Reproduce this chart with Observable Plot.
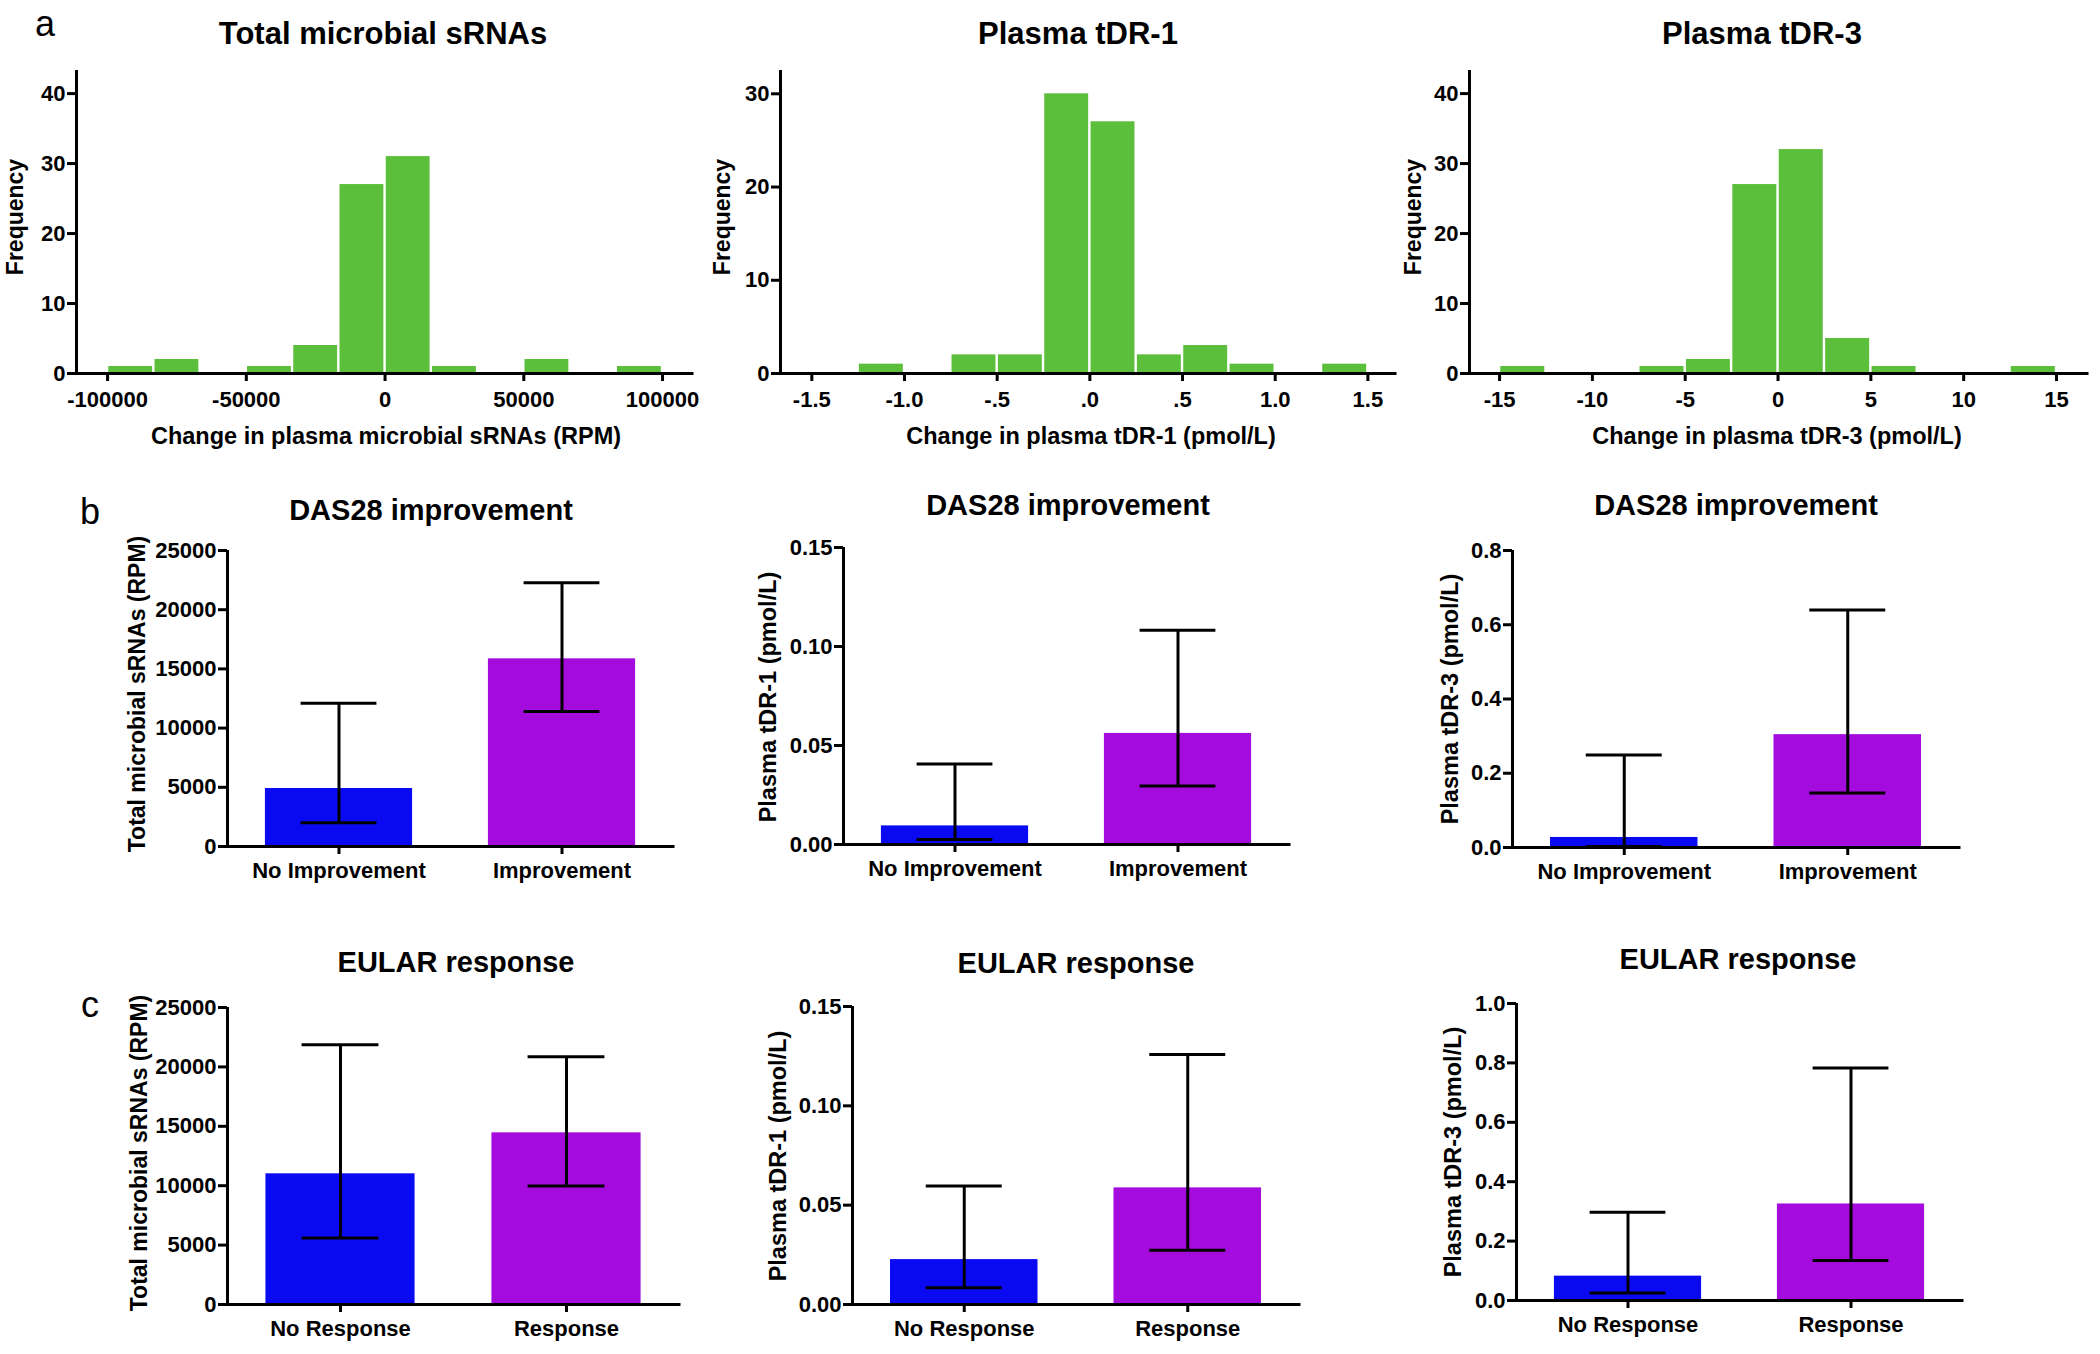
<!DOCTYPE html>
<html><head><meta charset="utf-8">
<script src="https://cdn.jsdelivr.net/npm/d3@7"></script>
<script src="https://cdn.jsdelivr.net/npm/@observablehq/plot@0.6"></script>
<style>
body{margin:0;background:#fff;}
#fig{position:relative;width:2100px;height:1354px;background:#fff;overflow:hidden;font-family:'Liberation Sans',Arial,Helvetica,sans-serif;color:#000;}
.t{position:absolute;white-space:nowrap;font-weight:bold;transform:translate(-50%,-50%);line-height:1;}
.v{transform:translate(-50%,-50%) rotate(-90deg);}
.p{position:absolute;}
</style></head><body><div id="fig"></div>
<script>
// ---------- DATA ----------
// Histograms (panel a): bin edges and counts
const srnaBinEdges = [-100000, -83333, -66667, -50000, -33333, -16667, 0, 16667, 33333, 50000, 66667, 83333, 100000];
const srnaCounts   = [1, 2, 0, 1, 4, 27, 31, 1, 0, 2, 0, 1];
const srnaTicks    = [-100000, -50000, 0, 50000, 100000];

const tdr1BinEdges = [-1.5, -1.25, -1.0, -0.75, -0.5, -0.25, 0, 0.25, 0.5, 0.75, 1.0, 1.25, 1.5];
const tdr1Counts   = [0, 1, 0, 2, 2, 30, 27, 2, 3, 1, 0, 1];
const tdr1Ticks    = [-1.5, -1.0, -0.5, 0, 0.5, 1.0, 1.5];

const tdr3BinEdges = [-15, -12.5, -10, -7.5, -5, -2.5, 0, 2.5, 5, 7.5, 10, 12.5, 15];
const tdr3Counts   = [1, 0, 0, 1, 2, 27, 32, 5, 1, 0, 0, 1];
const tdr3Ticks    = [-15, -10, -5, 0, 5, 10, 15];

const freqTicks40 = [0, 10, 20, 30, 40];
const freqTicks30 = [0, 10, 20, 30];

// Bar charts (panels b, c): value with lower / upper error limits
const das28Groups = ["No Improvement", "Improvement"];
const eularGroups = ["No Response", "Response"];

const das28SRNA     = [4900, 15850];
const das28SRNALow  = [2000, 11400];
const das28SRNAHigh = [12100, 22270];

const das28TDR1     = [0.0094, 0.0561];
const das28TDR1Low  = [0.0025, 0.0295];
const das28TDR1High = [0.0406, 0.1082];

const das28TDR3     = [0.027, 0.304];
const das28TDR3Low  = [0.003, 0.1465];
const das28TDR3High = [0.249, 0.640];

const eularSRNA     = [11000, 14450];
const eularSRNALow  = [5600, 9970];
const eularSRNAHigh = [21870, 20860];

const eularTDR1     = [0.0226, 0.0587];
const eularTDR1Low  = [0.0084, 0.0273];
const eularTDR1High = [0.0597, 0.1259];

const eularTDR3     = [0.082, 0.325];
const eularTDR3Low  = [0.025, 0.1345];
const eularTDR3High = [0.297, 0.783];

const srnaBarTicks = [0, 5000, 10000, 15000, 20000, 25000];
const tdr1BarTicks = [0, 0.05, 0.10, 0.15];
const tdr3BarTicksB = [0, 0.2, 0.4, 0.6, 0.8];
const tdr3BarTicksC = [0, 0.2, 0.4, 0.6, 0.8, 1.0];

// ---------- STYLE ----------
const FONT = "'Liberation Sans', Arial, Helvetica, sans-serif";
const GREEN = "#5cbf3b", BLUE = "#0a0af2", PURPLE = "#a40bdd";
const BAR_HALF = 0.33, CAP_HALF = 0.17;
const fig = document.getElementById("fig");

function txt(s, x, y, size, opts = {}) {
  const d = document.createElement("div");
  d.className = "t" + (opts.vertical ? " v" : "");
  d.textContent = s;
  d.style.left = x + "px"; d.style.top = y + "px";
  d.style.fontSize = size + "px";
  if (opts.weight) d.style.fontWeight = opts.weight;
  fig.appendChild(d);
}

function place(svg, left, top) {
  svg.classList.add("p");
  svg.style.left = left + "px"; svg.style.top = top + "px";
  fig.appendChild(svg);
}

function histogram(edges, counts, ticks, fmt, xDomain, yDomain, yTicks, frame) {
  const [L, R, T, B] = frame;
  const padL = 60, padR = 20, padT = 10, padB = 50;
  const data = counts.map((c, i) => ({x0: edges[i], x1: edges[i + 1], count: c})).filter(d => d.count > 0);
  const svg = Plot.plot({
    width: R - L + padL + padR, height: B - T + padT + padB,
    marginLeft: padL, marginRight: padR, marginTop: padT, marginBottom: padB,
    x: {domain: xDomain}, y: {domain: yDomain},
    style: {fontFamily: FONT, fontSize: "22px", fontWeight: "bold", color: "#000", background: "transparent", overflow: "visible"},
    marks: [
      Plot.rectY(data, {x1: "x0", x2: "x1", y: "count", fill: GREEN, insetLeft: 1.2, insetRight: 1.2}),
      Plot.ruleY([0], {strokeWidth: 3, strokeLinecap: "square"}),
      Plot.ruleX([xDomain[0]], {strokeWidth: 3}),
      Plot.axisY({ticks: yTicks, tickFormat: d => String(d), tickSize: 9, tickPadding: 2, strokeWidth: 3, label: null}),
      Plot.axisX({ticks: ticks, tickFormat: fmt, tickSize: 8, tickPadding: 10, strokeWidth: 3, label: null})
    ]
  });
  place(svg, L - padL, T - padT);
}

function barChart(groups, vals, lows, highs, yDomain, yTicks, yFmt, frame) {
  const [L, R, T, B] = frame;
  const padL = 90, padR = 20, padT = 10, padB = 50;
  const data = groups.map((g, i) => ({i, g, v: vals[i], lo: lows[i], hi: highs[i]}));
  const svg = Plot.plot({
    width: R - L + padL + padR, height: B - T + padT + padB,
    marginLeft: padL, marginRight: padR, marginTop: padT, marginBottom: padB,
    x: {domain: [-0.5, 1.5]}, y: {domain: yDomain},
    color: {domain: groups, range: [BLUE, PURPLE]},
    style: {fontFamily: FONT, fontSize: "22px", fontWeight: "bold", color: "#000", background: "transparent", overflow: "visible"},
    marks: [
      Plot.rectY(data, {x1: d => d.i - BAR_HALF, x2: d => d.i + BAR_HALF, y: "v", fill: "g"}),
      Plot.ruleX(data, {x: "i", y1: "lo", y2: "hi", strokeWidth: 3}),
      Plot.ruleY(data, {y: "hi", x1: d => d.i - CAP_HALF, x2: d => d.i + CAP_HALF, strokeWidth: 3}),
      Plot.ruleY(data, {y: "lo", x1: d => d.i - CAP_HALF, x2: d => d.i + CAP_HALF, strokeWidth: 3}),
      Plot.ruleY([0], {strokeWidth: 3, strokeLinecap: "square"}),
      Plot.ruleX([-0.5], {strokeWidth: 3}),
      Plot.axisY({ticks: yTicks, tickFormat: yFmt, tickSize: 9, tickPadding: 2, strokeWidth: 3, label: null}),
      Plot.axisX({ticks: [0, 1], tickFormat: i => groups[i], tickSize: 8, tickPadding: 8, strokeWidth: 3, label: null})
    ]
  });
  place(svg, L - padL, T - padT);
}

// ---------- PANEL a ----------
const intFmt = d => String(d);
const decFmt = d => d.toFixed(1).replace("0.", ".");
histogram(srnaBinEdges, srnaCounts, srnaTicks, intFmt, [-111200, 110800], [0, 43.3], freqTicks40, [76, 692, 70, 373]);
histogram(tdr1BinEdges, tdr1Counts, tdr1Ticks, decFmt, [-1.669, 1.649], [0, 32.5], freqTicks30, [780, 1395, 70, 373]);
histogram(tdr3BinEdges, tdr3Counts, tdr3Ticks, intFmt, [-16.62, 16.67], [0, 43.3], freqTicks40, [1469, 2087, 70, 373]);

txt("Total microbial  sRNAs", 383, 33, 31);
txt("Plasma tDR-1", 1078, 33, 31);
txt("Plasma tDR-3", 1762, 33, 31);
txt("Change in plasma microbial sRNAs (RPM)", 386, 437, 23.5);
txt("Change in plasma tDR-1 (pmol/L)", 1091, 437, 23.5);
txt("Change in plasma tDR-3 (pmol/L)", 1777, 437, 23.5);
txt("Frequency", 15, 217, 23, {vertical: true});
txt("Frequency", 722, 217, 23, {vertical: true});
txt("Frequency", 1413, 217, 23, {vertical: true});

// ---------- PANELS b, c ----------
const f0 = d => String(d), f1 = d => d.toFixed(1), f2 = d => d.toFixed(2);
barChart(das28Groups, das28SRNA, das28SRNALow, das28SRNAHigh, [0, 25000], srnaBarTicks, f0, [227, 673, 550, 846]);
barChart(das28Groups, das28TDR1, das28TDR1Low, das28TDR1High, [0, 0.15], tdr1BarTicks, f2, [843, 1289, 547, 844]);
barChart(das28Groups, das28TDR3, das28TDR3Low, das28TDR3High, [0, 0.8], tdr3BarTicksB, f1, [1512, 1959, 550, 847]);
barChart(eularGroups, eularSRNA, eularSRNALow, eularSRNAHigh, [0, 25000], srnaBarTicks, f0, [227, 679, 1007, 1304]);
barChart(eularGroups, eularTDR1, eularTDR1Low, eularTDR1High, [0, 0.15], tdr1BarTicks, f2, [852, 1299, 1006, 1304]);
barChart(eularGroups, eularTDR3, eularTDR3Low, eularTDR3High, [0, 1.0], tdr3BarTicksC, f1, [1516, 1962, 1003, 1300]);

txt("DAS28 improvement", 431, 510, 29);
txt("DAS28 improvement", 1068, 505, 29);
txt("DAS28 improvement", 1736, 505, 29);
txt("EULAR response", 456, 962, 29);
txt("EULAR response", 1076, 963, 29);
txt("EULAR response", 1738, 959, 29);

txt("Total microbial sRNAs (RPM)", 137, 694, 23, {vertical: true});
txt("Plasma tDR-1 (pmol/L)", 769, 697, 23.5, {vertical: true});
txt("Plasma tDR-3 (pmol/L)", 1451, 699, 23.5, {vertical: true});
txt("Total microbial sRNAs (RPM)", 139, 1153, 23, {vertical: true});
txt("Plasma tDR-1 (pmol/L)", 779, 1156, 23.5, {vertical: true});
txt("Plasma tDR-3 (pmol/L)", 1454, 1152, 23.5, {vertical: true});

txt("a", 45, 24, 36, {weight: "normal"});
txt("b", 90, 512, 36, {weight: "normal"});
txt("c", 90, 1005, 36, {weight: "normal"});
</script></body></html>
